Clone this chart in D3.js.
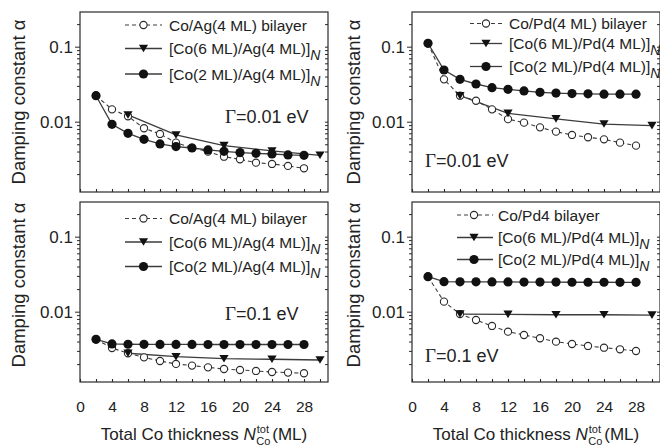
<!DOCTYPE html>
<html>
<head>
<meta charset="utf-8">
<script src="https://cdn.jsdelivr.net/npm/d3@7"></script>
<style>
  html, body { margin: 0; padding: 0; background: #fff; }
  svg { display: block; font-family: "Liberation Sans", Arial, Helvetica, sans-serif; }
</style>
</head>
<body>
<svg id="chart" width="660" height="446"></svg>
<script>
// ---- data ----
const thicknessEven = [2, 4, 6, 8, 10, 12, 14, 16, 18, 20, 22, 24, 26, 28];
const thicknessCo6 = [6, 12, 18, 24, 30];

const xTickValues = [0, 2, 4, 6, 8, 10, 12, 14, 16, 18, 20, 22, 24, 26, 28, 30];
const xLabelValues = [0, 4, 8, 12, 16, 20, 24, 28];
const yMajorTicks = [0.01, 0.1];
const yMinorTicks = [0.002, 0.003, 0.004, 0.005, 0.006, 0.007, 0.008, 0.009,
                     0.02, 0.03, 0.04, 0.05, 0.06, 0.07, 0.08, 0.09, 0.2];

// Co/Ag, Gamma = 0.01 eV
const agBilayerG001 = [0.0222, 0.0146, 0.0118, 0.00817, 0.00686, 0.00525, 0.0045, 0.00398, 0.00341, 0.00315, 0.00284, 0.00273, 0.00257, 0.00239];
const agCo6G001     = [0.0123, 0.00665, 0.00479, 0.00407, 0.00356];
const agCo2G001     = [0.0222, 0.00923, 0.0070, 0.00582, 0.00505, 0.00465, 0.00446, 0.0042, 0.00403, 0.00387, 0.00379, 0.00371, 0.0036, 0.00356];

// Co/Pd, Gamma = 0.01 eV
const pdBilayerG001 = [0.111, 0.0367, 0.0222, 0.019, 0.0146, 0.0108, 0.0097, 0.0084, 0.00736, 0.00665, 0.0062, 0.00582, 0.00525, 0.00479];
const pdCo6G001     = [0.0222, 0.0129, 0.0109, 0.0093, 0.00885];
const pdCo2G001     = [0.111, 0.0489, 0.0367, 0.0318, 0.0284, 0.027, 0.0257, 0.0246, 0.0241, 0.0237, 0.0235, 0.0233, 0.0233, 0.0233];

// Co/Ag, Gamma = 0.1 eV
const agBilayerG01 = [0.00428, 0.00328, 0.00279, 0.00246, 0.0022, 0.00201, 0.00191, 0.00181, 0.00172, 0.00167, 0.00162, 0.00157, 0.00154, 0.00151];
const agCo6G01     = [0.00279, 0.00251, 0.00236, 0.00232, 0.00227];
const agCo2G01     = [0.00428, 0.00372, 0.00368, 0.00367, 0.00366, 0.00366, 0.00366, 0.00365, 0.00365, 0.00365, 0.00365, 0.00365, 0.00365, 0.00365];

// Co/Pd, Gamma = 0.1 eV
const pdBilayerG01 = [0.0293, 0.0136, 0.0093, 0.00775, 0.00645, 0.00541, 0.00489, 0.00442, 0.00398, 0.00371, 0.00349, 0.00331, 0.00315, 0.00299];
const pdCo6G01     = [0.0093, 0.0092, 0.0091, 0.0091, 0.0090];
const pdCo2G01     = [0.0293, 0.0251, 0.025, 0.025, 0.0249, 0.0249, 0.0248, 0.0248, 0.0248, 0.0247, 0.0247, 0.0247, 0.0246, 0.0246];

const legendAg   = ["Co/Ag(4 ML) bilayer", "[Co(6 ML)/Ag(4 ML)]", "[Co(2 ML)/Ag(4 ML)]"];
const legendPd   = ["Co/Pd(4 ML) bilayer", "[Co(6 ML)/Pd(4 ML)]", "[Co(2 ML)/Pd(4 ML)]"];
const legendPd4  = ["Co/Pd4 bilayer", "[Co(6 ML)/Pd(4 ML)]", "[Co(2 ML)/Pd(4 ML)]"];
const gammaText  = ["=0.01 eV", "=0.1 eV"];
const yTitle = "Damping constant \u03B1";

// ---- layout ----
const svg = d3.select("#chart");
const INK = "#2a2a2a";
const LINE = "#3c3c3c";
const yDomain = [0.29 / Math.pow(10, 2.4), 0.29];

const panels = [
  { x0: 80,  x1: 328, y0: 12,  y1: 192, bilayer: agBilayerG001, co6: agCo6G001, co2: agCo2G001,
    legend: legendAg, rows: [25, 48.5, 74], sym: [125, 162], mark: 143.5, textX: 169,
    gamma: gammaText[0], gx: 225, gy: 123, labels: false, titleY: 102, titleX: 25 },
  { x0: 412, x1: 660, y0: 12,  y1: 192, bilayer: pdBilayerG001, co6: pdCo6G001, co2: pdCo2G001,
    legend: legendPd, rows: [23.5, 43.5, 66.5], sym: [470, 502], mark: 486, textX: 509,
    gamma: gammaText[0], gx: 425, gy: 167, labels: false, titleY: 102, titleX: 360 },
  { x0: 80,  x1: 328, y0: 202, y1: 382, bilayer: agBilayerG01, co6: agCo6G01, co2: agCo2G01,
    legend: legendAg, rows: [218.5, 242, 266.5], sym: [125, 162], mark: 143.5, textX: 169,
    gamma: gammaText[1], gx: 225, gy: 320, labels: true, titleY: 285, titleX: 25 },
  { x0: 412, x1: 660, y0: 202, y1: 382, bilayer: pdBilayerG01, co6: pdCo6G01, co2: pdCo2G01,
    legend: legendPd4, rows: [215, 237.5, 259.5], sym: [457, 493], mark: 474, textX: 498,
    gamma: gammaText[1], gx: 425, gy: 362, labels: true, titleY: 285, titleX: 360 }
];

const triangle = (cx, cy) => {
  const w = 4.6, h = 3.8;
  return `M${cx - w},${cy - h}L${cx + w},${cy - h}L${cx},${cy + h}Z`;
};

function drawMarkers(g, pts, kind) {
  if (kind === "open") {
    g.selectAll(null).data(pts).join("circle")
      .attr("cx", d => d[0]).attr("cy", d => d[1]).attr("r", 3.6)
      .attr("fill", "#fff").attr("stroke", INK).attr("stroke-width", 1.1);
  } else if (kind === "filled") {
    g.selectAll(null).data(pts).join("circle")
      .attr("cx", d => d[0]).attr("cy", d => d[1]).attr("r", 4.6)
      .attr("fill", "#111");
  } else {
    g.selectAll(null).data(pts).join("path")
      .attr("d", d => triangle(d[0], d[1])).attr("fill", "#111");
  }
}

panels.forEach(p => {
  const x = d3.scaleLinear().domain([0, 31]).range([p.x0, p.x1]);
  const y = d3.scaleLog().domain(yDomain).range([p.y1, p.y0]);
  const g = svg.append("g");

  // frame
  g.append("rect").attr("x", p.x0).attr("y", p.y0)
    .attr("width", p.x1 - p.x0).attr("height", p.y1 - p.y0)
    .attr("fill", "none").attr("stroke", INK).attr("stroke-width", 1.2);

  // x axis: inward ticks every 2 ML, labels every 4 ML on the lower panels
  const xAxis = g.append("g").attr("transform", `translate(0,${p.y1})`)
    .call(d3.axisBottom(x).tickValues(xTickValues).tickSize(-3).tickPadding(19)
      .tickFormat(d => (p.labels && xLabelValues.includes(d)) ? String(d) : ""));
  xAxis.select(".domain").remove();
  xAxis.selectAll("line").attr("stroke", INK).attr("stroke-width", 1.1);
  xAxis.selectAll("text").attr("font-size", 15.5).attr("fill", "#222")
    .attr("font-family", "\"Liberation Sans\", Arial, sans-serif");

  // y axis: decade labels plus minor log ticks
  const yMaj = g.append("g").attr("transform", `translate(${p.x0},0)`)
    .call(d3.axisLeft(y).tickValues(yMajorTicks).tickSize(5).tickPadding(2).tickFormat(d => String(d)));
  const yMin = g.append("g").attr("transform", `translate(${p.x0},0)`)
    .call(d3.axisLeft(y).tickValues(yMinorTicks).tickSize(3).tickFormat(""));
  const yRight = g.append("g").attr("transform", `translate(${p.x1},0)`)
    .call(d3.axisRight(y).tickValues(yMinorTicks.concat(yMajorTicks)).tickSize(-3).tickFormat(""));
  [yMaj, yMin, yRight].forEach(a => {
    a.select(".domain").remove();
    a.selectAll("line").attr("stroke", INK).attr("stroke-width", 1);
  });
  yMaj.selectAll("text").attr("font-size", 17).attr("fill", "#222")
    .attr("font-family", "\"Liberation Sans\", Arial, sans-serif");

  // y title
  g.append("text")
    .attr("transform", `translate(${p.titleX},${p.titleY}) rotate(-90)`)
    .attr("text-anchor", "middle").attr("font-size", 18.5).attr("fill", "#222")
    .text(yTitle);

  // series
  const line = d3.line().x(d => d[0]).y(d => d[1]);
  const bil = thicknessEven.map((n, i) => [x(n), y(p.bilayer[i])]);
  const c6 = thicknessCo6.map((n, i) => [x(n), y(p.co6[i])]);
  const c2 = thicknessEven.map((n, i) => [x(n), y(p.co2[i])]);

  g.append("path").attr("d", line(bil)).attr("fill", "none")
    .attr("stroke", LINE).attr("stroke-width", 1.1).attr("stroke-dasharray", "4,3");
  g.append("path").attr("d", line(c6)).attr("fill", "none")
    .attr("stroke", LINE).attr("stroke-width", 1.3);
  g.append("path").attr("d", line(c2)).attr("fill", "none")
    .attr("stroke", LINE).attr("stroke-width", 1.3);

  drawMarkers(g.append("g"), bil, "open");
  drawMarkers(g.append("g"), c6, "tri");
  drawMarkers(g.append("g"), c2, "filled");

  // legend
  const kinds = ["open", "tri", "filled"];
  p.legend.forEach((label, i) => {
    const cy = p.rows[i];
    const lg = g.append("g");
    lg.append("line").attr("x1", p.sym[0]).attr("x2", p.sym[1]).attr("y1", cy).attr("y2", cy)
      .attr("stroke", LINE).attr("stroke-width", i === 0 ? 1.1 : 1.3)
      .attr("stroke-dasharray", i === 0 ? "4,3" : null);
    drawMarkers(lg, [[p.mark, cy]], kinds[i]);
    const t = lg.append("text").attr("x", p.textX).attr("y", cy + 5.5)
      .attr("font-size", 15.5).attr("fill", "#222");
    t.append("tspan").text(label);
    if (i > 0) {
      t.append("tspan").attr("dy", 6).attr("font-style", "italic").attr("font-size", 14).text("N");
    }
  });

  // broadening label
  const gt = g.append("text").attr("x", p.gx).attr("y", p.gy).attr("font-size", 18).attr("fill", "#222");
  gt.append("tspan").attr("font-family", "\"Liberation Serif\", \"Times New Roman\", serif")
    .attr("font-size", 19).text("\u0393");
  gt.append("tspan").text(p.gamma);

  // x title on lower panels
  if (p.labels) {
    const tt = g.append("text").attr("x", (p.x0 + p.x1) / 2).attr("y", 440)
      .attr("text-anchor", "middle").attr("font-size", 17).attr("fill", "#222");
    tt.append("tspan").text("Total Co thickness ");
    tt.append("tspan").attr("font-style", "italic").text("N");
    const sup = tt.append("tspan").attr("font-size", 11).attr("dy", -7).attr("dx", 1).text("tot");
    const supW = sup.node().getComputedTextLength();
    tt.append("tspan").attr("font-size", 11).attr("dy", 12).attr("dx", -supW - 0.5).text("Co");
    tt.append("tspan").attr("dy", -5).attr("dx", 2).text("(ML)");
  }
});
</script>
</body>
</html>
